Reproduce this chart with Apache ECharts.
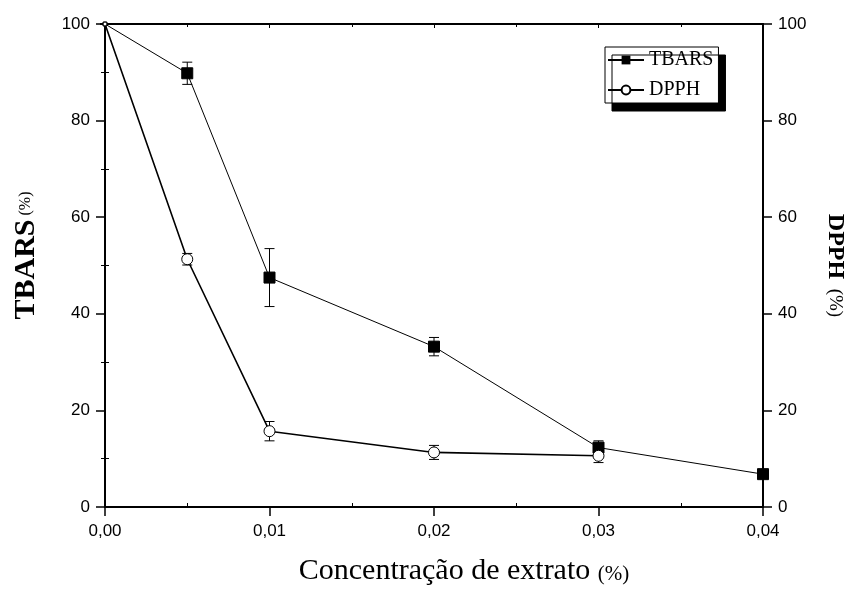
<!DOCTYPE html>
<html>
<head>
<meta charset="utf-8">
<script src="https://cdn.jsdelivr.net/npm/echarts@6/dist/echarts.min.js"></script>
<style>
  html, body { margin: 0; padding: 0; background: #fff; }
  #chart { width: 852px; height: 593px; }
</style>
</head>
<body>
<div id="chart"></div>
<script>
// concentration of extract (%)
const concTbars = [0, 0.005, 0.01, 0.02, 0.03, 0.04];
const concDpph = [0, 0.005, 0.01, 0.02, 0.03];

// TBARS (%) with error
const tbars = [100, 89.8, 47.5, 33.2, 12.3, 6.8];
const tbarsErr = [0, 2.3, 6.0, 1.9, 1.4, 0];

// DPPH (%) with error
const dpph = [100, 51.3, 15.7, 11.3, 10.6];
const dpphErr = [0, 1.2, 2.0, 1.45, 1.4];

const chart = echarts.init(document.getElementById("chart"), null, { renderer: "canvas" });

const serif = "'Liberation Serif', 'Times New Roman', serif";
const sans = "'Liberation Sans', Arial, sans-serif";
const black = { color: "#000", width: 2 };

// error bar drawing: vertical line with caps
const errorBar = (params, api) => {
  const x = api.value(0);
  const top = api.coord([x, api.value(2)]);
  const bot = api.coord([x, api.value(1)]);
  const w = 5;
  const st = { stroke: "#000", lineWidth: 1 };
  return {
    type: "group",
    children: [
      { type: "line", shape: { x1: top[0], y1: top[1], x2: bot[0], y2: bot[1] }, style: st },
      { type: "line", shape: { x1: top[0] - w, y1: top[1], x2: top[0] + w, y2: top[1] }, style: st },
      { type: "line", shape: { x1: bot[0] - w, y1: bot[1], x2: bot[0] + w, y2: bot[1] }, style: st },
    ],
  };
};

// main y axes: labels + outward major ticks
const valueAxisY = (pos, name, rich, rotate, gap, pad) => ({
  type: "value",
  position: pos,
  min: 0,
  max: 100,
  interval: 20,
  name: name,
  nameLocation: "middle",
  nameRotate: rotate,
  nameGap: gap,
  nameTextStyle: { rich: rich, padding: pad },
  axisLine: { show: true, onZero: false, lineStyle: black },
  axisTick: { show: true, inside: false, length: 9, lineStyle: { color: "#000", width: 1.5 } },
  axisLabel: { color: "#000", fontFamily: sans, fontSize: 17, margin: 15 },
  splitLine: { show: false },
});

// helper axes only for the inward minor ticks
const minorY = (pos) => ({
  type: "value",
  position: pos,
  min: 0,
  max: 100,
  interval: 20,
  axisLine: { show: false },
  axisTick: { show: false, inside: true },
  minorTick: { show: true, splitNumber: 2, length: 4, lineStyle: { color: "#000", width: 1 } },
  axisLabel: { show: false },
  splitLine: { show: false },
});

const option = {
  animation: false,
  backgroundColor: "#fff",
  grid: { left: 105, right: 89, top: 24, bottom: 86, outerBoundsMode: "none", containLabel: false },
  legend: {
    left: 605,
    top: 47,
    orient: "vertical",
    itemWidth: 36,
    itemHeight: 11,
    itemGap: 10,
    padding: [3, 5, 3, 2],
    backgroundColor: "#fff",
    borderColor: "#000",
    borderWidth: 1,
    borderRadius: 0,
    shadowColor: "#000",
    shadowBlur: 0,
    shadowOffsetX: 7,
    shadowOffsetY: 8,
    textStyle: { fontFamily: serif, fontSize: 20, color: "#000" },
    data: ["TBARS", "DPPH"],
  },
  xAxis: [
    {
      type: "value",
      position: "bottom",
      min: 0,
      max: 0.04,
      interval: 0.01,
      name: "{a|Concentração de extrato }{p|(%)}",
      nameLocation: "middle",
      nameGap: 49,
      nameTextStyle: {
        padding: [0, 0, 0, 60],
        rich: {
          a: { fontFamily: serif, fontSize: 30, color: "#000" },
          p: { fontFamily: serif, fontSize: 21, color: "#000", padding: [6, 0, 0, 0] },
        },
      },
      axisLine: { show: true, onZero: false, lineStyle: black },
      axisTick: { show: true, inside: false, length: 9, lineStyle: { color: "#000", width: 1.5 } },
      axisLabel: {
        color: "#000",
        fontFamily: sans,
        fontSize: 17,
        margin: 16,
        formatter: (v) => v.toFixed(2).replace(".", ","),
      },
      splitLine: { show: false },
    },
    {
      type: "value",
      position: "top",
      min: 0,
      max: 0.04,
      interval: 0.01,
      axisLine: { show: true, onZero: false, lineStyle: black },
      axisTick: { show: true, inside: true, length: 4, lineStyle: { color: "#000", width: 1 } },
      minorTick: { show: true, splitNumber: 2, length: 3, lineStyle: { color: "#000", width: 1 } },
      axisLabel: { show: false },
      splitLine: { show: false },
    },
    {
      type: "value",
      position: "bottom",
      min: 0,
      max: 0.04,
      interval: 0.01,
      axisLine: { show: false, onZero: false },
      axisTick: { show: false, inside: true },
      minorTick: { show: true, splitNumber: 2, length: 4, lineStyle: { color: "#000", width: 1 } },
      axisLabel: { show: false },
      splitLine: { show: false },
    },
  ],
  yAxis: [
    valueAxisY(
      "left",
      "{b|TBARS}{p| (%)}",
      {
        b: { fontFamily: serif, fontWeight: "bold", fontSize: 30, color: "#000" },
        p: { fontFamily: serif, fontSize: 16, color: "#000" },
      },
      90,
      64,
      [0, 0, 0, 20]
    ),
    valueAxisY(
      "right",
      "{b|DPPH}{p|  (%)}",
      {
        b: { fontFamily: serif, fontWeight: "bold", fontSize: 24, color: "#000" },
        p: { fontFamily: serif, fontSize: 19, color: "#000" },
      },
      -90,
      60,
      0
    ),
    minorY("left"),
    minorY("right"),
  ],
  series: [
    {
      name: "TBARS",
      type: "line",
      xAxisIndex: 0,
      yAxisIndex: 0,
      data: concTbars.map((x, i) => [x, tbars[i]]),
      symbol: "rect",
      symbolSize: (v, p) => (p.dataIndex === 0 ? 4 : 11),
      lineStyle: { color: "#000", width: 1 },
      itemStyle: { color: "#000", borderColor: "#000" },
      z: 3,
    },
    {
      name: "DPPH",
      type: "line",
      xAxisIndex: 0,
      yAxisIndex: 1,
      data: concDpph.map((x, i) => [x, dpph[i]]),
      symbol: "circle",
      symbolSize: (v, p) => (p.dataIndex === 0 ? 4 : 11),
      lineStyle: { color: "#000", width: 1.6 },
      itemStyle: { color: "#fff", borderColor: "#000", borderWidth: 1 },
      z: 3,
    },
    {
      type: "custom",
      xAxisIndex: 0,
      yAxisIndex: 0,
      renderItem: errorBar,
      data: concTbars.map((x, i) => [x, tbars[i] - tbarsErr[i], tbars[i] + tbarsErr[i]]),
      encode: { x: 0, y: [1, 2] },
      z: 2,
    },
    {
      type: "custom",
      xAxisIndex: 0,
      yAxisIndex: 1,
      renderItem: errorBar,
      data: concDpph.map((x, i) => [x, dpph[i] - dpphErr[i], dpph[i] + dpphErr[i]]),
      encode: { x: 0, y: [1, 2] },
      z: 2,
    },
  ],
};

chart.setOption(option);
</script>
</body>
</html>
